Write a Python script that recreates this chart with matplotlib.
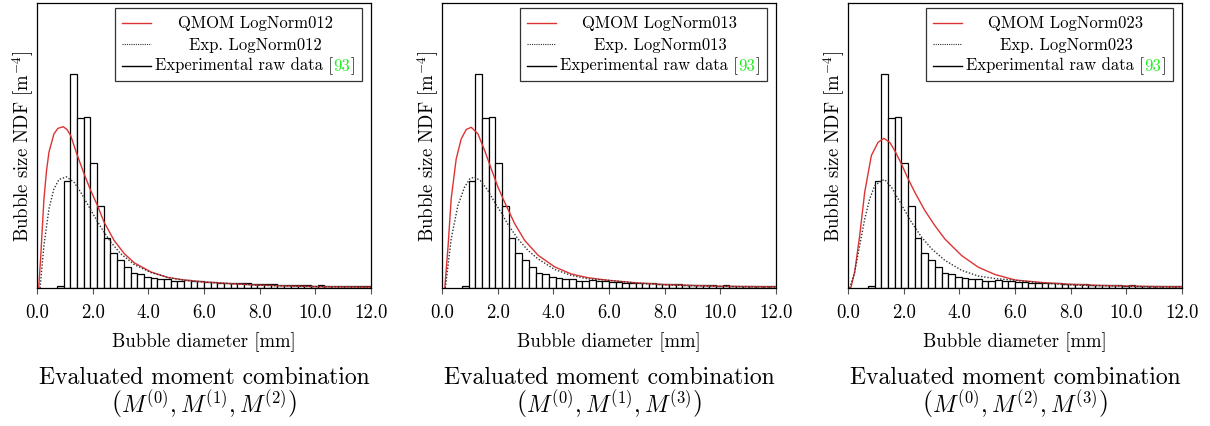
import matplotlib
matplotlib.use("Agg")
import matplotlib.pyplot as plt
from matplotlib.patches import Rectangle

plt.rcParams["font.family"] = ["cmr10", "DejaVu Serif"]
plt.rcParams["mathtext.fontset"] = "cm"
plt.rcParams["axes.formatter.use_mathtext"] = True

# experimental histogram (lower bin edges in mm, normalised NDF)
bin_left = [0.72, 0.96, 1.20, 1.44, 1.68, 1.92, 2.16, 2.40, 2.64, 2.88, 3.12, 3.36,
            3.60, 3.84, 4.08, 4.32, 4.56, 4.80, 5.04, 5.28, 5.52, 5.76, 6.00, 6.24,
            6.48, 6.72, 6.96, 7.20, 7.44, 7.68, 7.92, 8.16, 8.40, 8.64, 8.88, 9.12,
            9.36, 9.60, 9.84, 10.08, 10.32, 10.56, 10.80, 11.04, 11.28, 11.52, 11.76]
bin_ndf = [0.007, 0.375, 0.750, 0.596, 0.599, 0.438, 0.286, 0.176, 0.124, 0.097, 0.072, 0.052,
           0.048, 0.040, 0.035, 0.030, 0.031, 0.023, 0.026, 0.027, 0.024, 0.023, 0.022, 0.021,
           0.019, 0.018, 0.018, 0.016, 0.016, 0.015, 0.014, 0.013, 0.013, 0.012, 0.011, 0.011,
           0.010, 0.010, 0.008, 0.010, 0.008, 0.007, 0.008, 0.007, 0.007, 0.007, 0.006]
bin_width = 0.24

tail_x = [7.0, 8.0, 9.0, 10.0, 11.0, 12.0]

# QMOM lognormal reconstructions
qmom_x_012 = [0.06, 0.13, 0.19, 0.25, 0.34, 0.43, 0.61, 0.75, 0.94, 1.08, 1.21, 1.45, 1.69,
              1.93, 2.17, 2.41, 2.77, 3.14, 3.50, 4.10, 4.70, 5.30, 6.02] + tail_x
qmom_y_012 = [0.0, 0.103, 0.21, 0.313, 0.41, 0.477, 0.541, 0.560, 0.566, 0.556, 0.535, 0.465, 0.401,
              0.342, 0.290, 0.231, 0.167, 0.120, 0.088, 0.056, 0.037, 0.028, 0.021,
              0.015, 0.010, 0.007, 0.005, 0.004, 0.003]
exp_x_012 = [0.11, 0.25, 0.43, 0.61, 0.79, 1.06, 1.33, 1.57, 1.81, 2.05, 2.29, 2.65, 3.01,
             3.50, 4.10, 4.70, 5.30, 6.02] + tail_x
exp_y_012 = [0.0, 0.149, 0.278, 0.348, 0.381, 0.390, 0.371, 0.336, 0.295, 0.254, 0.214, 0.161, 0.120,
             0.082, 0.054, 0.037, 0.027, 0.021, 0.015, 0.010, 0.007, 0.005, 0.004, 0.003]

qmom_x_013 = [0.10, 0.22, 0.33, 0.51, 0.69, 0.87, 1.05, 1.29, 1.53, 1.77, 2.01, 2.25, 2.61,
              2.97, 3.45, 4.05, 4.65, 5.25, 5.97] + tail_x
qmom_y_013 = [0.0, 0.149, 0.313, 0.453, 0.523, 0.556, 0.564, 0.541, 0.483, 0.418, 0.354, 0.301, 0.226,
              0.167, 0.115, 0.074, 0.049, 0.036, 0.027, 0.018, 0.012, 0.009, 0.006, 0.005, 0.004]
exp_x_013 = [0.12, 0.33, 0.57, 0.81, 1.00, 1.17, 1.41, 1.65, 1.89, 2.13, 2.37, 2.73, 3.09,
             3.45, 4.05, 4.65, 5.25, 5.97] + tail_x
exp_y_013 = [0.0, 0.172, 0.289, 0.354, 0.383, 0.390, 0.374, 0.342, 0.301, 0.264, 0.223, 0.172, 0.132,
             0.102, 0.065, 0.044, 0.032, 0.027, 0.017, 0.011, 0.008, 0.006, 0.004, 0.003]

qmom_x_023 = [0.10, 0.24, 0.42, 0.60, 0.84, 1.08, 1.29, 1.50, 1.68, 1.92, 2.16, 2.40, 2.76,
              3.12, 3.48, 4.08, 4.68, 5.29, 6.01] + tail_x
qmom_y_023 = [0.0, 0.056, 0.184, 0.336, 0.465, 0.511, 0.525, 0.511, 0.482, 0.435, 0.383, 0.336, 0.272,
              0.219, 0.172, 0.114, 0.073, 0.047, 0.028, 0.019, 0.013, 0.009, 0.007, 0.005, 0.004]
exp_x_023 = [0.06, 0.24, 0.42, 0.60, 0.78, 0.96, 1.20, 1.32, 1.56, 1.80, 2.04, 2.28, 2.64,
             3.00, 3.48, 4.08, 4.68, 5.29, 6.01] + tail_x
exp_y_023 = [0.0, 0.056, 0.149, 0.242, 0.313, 0.359, 0.377, 0.380, 0.354, 0.313, 0.272, 0.231, 0.179,
             0.138, 0.097, 0.062, 0.042, 0.033, 0.027, 0.017, 0.011, 0.008, 0.006, 0.004, 0.003]

panel_tags = ["012", "013", "023"]
moment_labels = [r"$\left(M^{(0)}, M^{(1)}, M^{(2)}\right)$",
                 r"$\left(M^{(0)}, M^{(1)}, M^{(3)}\right)$",
                 r"$\left(M^{(0)}, M^{(2)}, M^{(3)}\right)$"]
xticks = [0.0, 2.0, 4.0, 6.0, 8.0, 10.0, 12.0]

RED = "#dd3333"
W, H = 1210, 427
FS = 13.5      # axis text
FS_LEG = 12    # legend text
FS_CAP = 17    # caption under each panel


def centered_parts(ax, xc, y, parts, renderer):
    # place differently coloured pieces of one line, centred at xc (axes coords)
    texts = [ax.text(0, y, s, color=c, transform=ax.transAxes, ha="left", va="center",
                     fontsize=FS_LEG, zorder=6) for s, c in parts]
    axw = ax.get_window_extent(renderer).width
    widths = [t.get_window_extent(renderer).width / axw for t in texts]
    x = xc - sum(widths) / 2
    for t, w in zip(texts, widths):
        t.set_x(x)
        x += w


fig = plt.figure(figsize=(W / 100, H / 100), dpi=100)
renderer = fig.canvas.get_renderer()
lefts = [37, 442, 848]
AXW, AXH = 334, 285
curves = [(qmom_x_012, qmom_y_012, exp_x_012, exp_y_012),
          (qmom_x_013, qmom_y_013, exp_x_013, exp_y_013),
          (qmom_x_023, qmom_y_023, exp_x_023, exp_y_023)]

for i, left in enumerate(lefts):
    ax = fig.add_axes([left / W, (H - 289) / H, AXW / W, AXH / H])
    qx, qy, ex, ey = curves[i]

    ax.bar(bin_left, bin_ndf, width=bin_width, align="edge", facecolor="white",
           edgecolor="black", linewidth=0.9, zorder=2)
    ax.plot(qx, qy, color=RED, linewidth=1.0, zorder=3)
    ax.plot(ex, ey, color="#333333", linewidth=1.0, linestyle=(0, (1, 1.3)), zorder=3)

    ax.set_xlim(0, 12)
    ax.set_ylim(0, 1)
    ax.set_xticks(xticks)
    ax.set_xticklabels([f"{v:.1f}" for v in xticks], fontsize=FS)
    ax.set_yticks([])
    ax.tick_params(axis="x", direction="out", length=4, width=0.8, pad=7, color="#555555")
    for sp in ax.spines.values():
        sp.set_linewidth(0.9)
    ax.set_xlabel("Bubble diameter [mm]", fontsize=FS, labelpad=7)
    ax.set_ylabel(r"Bubble size NDF [m$^{-4}$]", fontsize=FS, labelpad=1)

    # legend box drawn by hand so the labels can be centred
    box = Rectangle(((115 - 37) / AXW, 1 - (82 - 4) / AXH), 247 / AXW, 73 / AXH,
                    transform=ax.transAxes, facecolor="white", edgecolor="#333333",
                    linewidth=0.9, zorder=5)
    ax.add_patch(box)
    lx0, lx1 = (122 - 37) / AXW, (151 - 37) / AXW
    rows_y = [1 - (23.5 - 4) / AXH, 1 - (45 - 4) / AXH, 1 - (66.5 - 4) / AXH]
    ax.plot([lx0, lx1], [rows_y[0]] * 2, color=RED, linewidth=1.0, transform=ax.transAxes, zorder=6)
    ax.plot([lx0, lx1], [rows_y[1]] * 2, color="#333333", linewidth=0.8,
            linestyle=(0, (1, 1)), transform=ax.transAxes, zorder=6)
    ax.plot([lx0, lx1], [rows_y[2]] * 2, color="black", linewidth=1.0, transform=ax.transAxes, zorder=6)
    xc = (255 - 37) / AXW
    tag = panel_tags[i]
    centered_parts(ax, xc, rows_y[0], [(f"QMOM LogNorm{tag}", "black")], renderer)
    centered_parts(ax, xc, rows_y[1], [(f"Exp. LogNorm{tag}", "black")], renderer)
    centered_parts(ax, xc, rows_y[2], [("Experimental raw data [", "black"), ("93", "#22ee22"),
                                        ("]", "black")], renderer)

    cx = (left + AXW / 2) / W
    fig.text(cx, 1 - 378 / H, "Evaluated moment combination", ha="center", va="center", fontsize=FS_CAP)
    fig.text(cx, 1 - 405 / H, moment_labels[i], ha="center", va="center", fontsize=FS_CAP)

fig.savefig("out.png", dpi=100)
